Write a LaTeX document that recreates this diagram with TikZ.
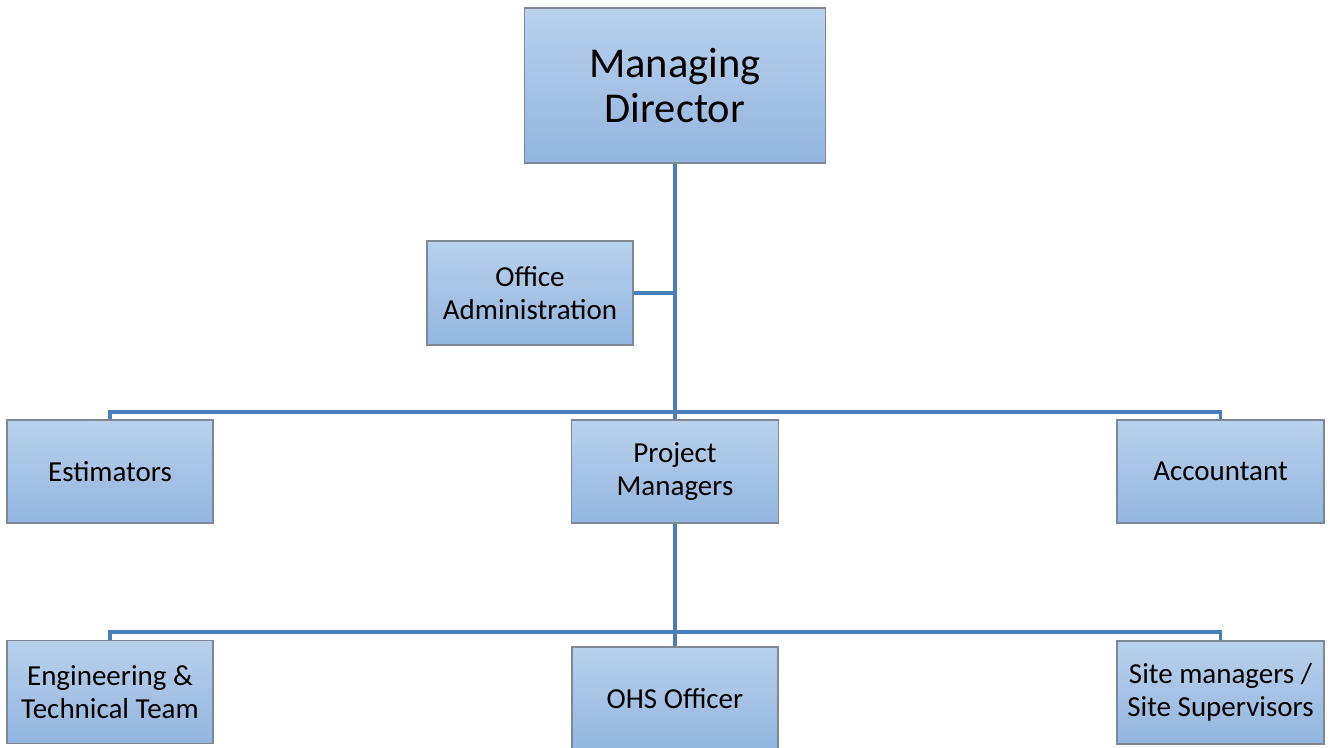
\documentclass[tikz,border=0pt]{standalone}
\usepackage{fontspec}
\setmainfont{Carlito}
\definecolor{boxtop}{HTML}{B9D1EC}
\definecolor{boxbot}{HTML}{93B5E0}
\definecolor{boxline}{HTML}{7F8794}
\definecolor{conn}{HTML}{4A7EBB}
\tikzset{
  orgbox/.style={draw=boxline, line width=1.2pt, top color=boxtop, bottom color=boxbot,
    inner sep=0pt, align=center, text=black, font=\fontsize{29}{32.5}\selectfont},
  conline/.style={draw=conn, line width=3.2pt}
}
\begin{document}
\begin{tikzpicture}[x=1pt,y=-1pt]
\useasboundingbox (0,0) rectangle (1330,747);
\coordinate (b1) at (675,412);
\coordinate (b2) at (675,632);
\node[orgbox, minimum width=301pt, minimum height=155pt, font=\fontsize{42.5}{45}\selectfont] (md) at (675,85.5) {Managing\\Director};
\node[orgbox, minimum width=206pt, minimum height=104pt] (oa) at (530,293) {Office\\Administration};
\node[orgbox, minimum width=206pt, minimum height=103pt] (est) at (110,471.5) {Estimators};
\node[orgbox, minimum width=207pt, minimum height=103pt] (pm) at (675,471.5) {Project\\Managers};
\node[orgbox, minimum width=207pt, minimum height=103pt] (acc) at (1220.5,471.5) {Accountant};
\node[orgbox, minimum width=206pt, minimum height=103pt] (eng) at (110,692) {Engineering \&\\Technical Team};
\node[orgbox, minimum width=206pt, minimum height=104pt] (ohs) at (675,699) {OHS Officer};
\node[orgbox, minimum width=207pt, minimum height=103pt] (site) at (1220.5,692.5) {Site managers /\\Site Supervisors};
\draw[conline] (md.south) -- (pm.north);
\draw[conline] (oa.east) -- (oa.east -| md.south);
\draw[conline] (est.north) |- (b1) -| (acc.north);
\draw[conline] (pm.south) -- (ohs.north);
\draw[conline] (eng.north) |- (b2) -| (site.north);
\end{tikzpicture}
\end{document}
